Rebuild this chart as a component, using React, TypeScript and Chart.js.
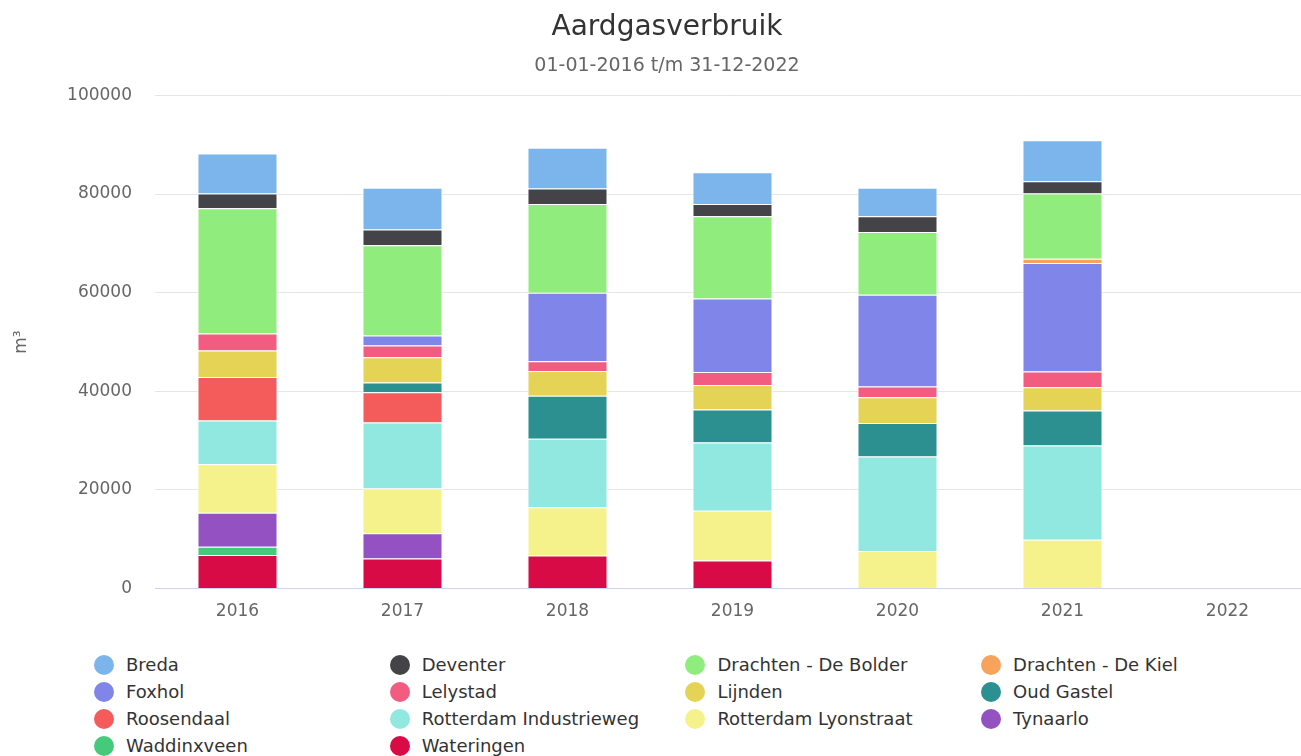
import React, { useEffect, useRef } from "react";
import { Chart, registerables } from "chart.js";

Chart.register(...registerables);

const years = ["2016", "2017", "2018", "2019", "2020", "2021", "2022"];
const yTickValues = [0, 20000, 40000, 60000, 80000, 100000];

const breda = [8100, 8500, 8300, 6400, 5800, 8300, null];
const deventer = [3000, 3200, 3100, 2500, 3200, 2500, null];
const drachtenBolder = [25400, 18300, 18000, 16700, 12700, 13200, null];
const drachtenKiel = [null, null, null, null, null, 900, null];
const foxhol = [null, 2000, 13900, 14900, 18600, 22000, null];
const lelystad = [3400, 2400, 2000, 2600, 2200, 3200, null];
const lijnden = [5400, 5100, 5000, 5000, 5200, 4700, null];
const oudGastel = [null, 2000, 8700, 6700, 6800, 7100, null];
const roosendaal = [8800, 6100, null, null, null, null, null];
const rotterdamIndustrieweg = [8900, 13400, 13900, 13800, 19200, 19100, null];
const rotterdamLyonstraat = [9800, 9100, 9800, 10100, 7600, 9900, null];
const tynaarlo = [6900, 5100, null, null, null, null, null];
const waddinxveen = [1700, null, null, null, null, null, null];
const wateringen = [6800, 6100, 6700, 5700, null, null, null];

const series = [
  { name: "Breda", color: "#7cb5ec", data: breda },
  { name: "Deventer", color: "#434348", data: deventer },
  { name: "Drachten - De Bolder", color: "#90ed7d", data: drachtenBolder },
  { name: "Drachten - De Kiel", color: "#f7a35c", data: drachtenKiel },
  { name: "Foxhol", color: "#8085e9", data: foxhol },
  { name: "Lelystad", color: "#f15c80", data: lelystad },
  { name: "Lijnden", color: "#e4d354", data: lijnden },
  { name: "Oud Gastel", color: "#2b908f", data: oudGastel },
  { name: "Roosendaal", color: "#f45b5b", data: roosendaal },
  { name: "Rotterdam Industrieweg", color: "#91e8e1", data: rotterdamIndustrieweg },
  { name: "Rotterdam Lyonstraat", color: "#f5f28c", data: rotterdamLyonstraat },
  { name: "Tynaarlo", color: "#9351c2", data: tynaarlo },
  { name: "Waddinxveen", color: "#45c97a", data: waddinxveen },
  { name: "Wateringen", color: "#d90b47", data: wateringen },
];

const FONT = "'DejaVu Sans', Verdana, sans-serif";

export default function App() {
  const canvasRef = useRef<HTMLCanvasElement | null>(null);

  useEffect(() => {
    if (!canvasRef.current) return;
    Chart.defaults.font.family = FONT;
    const datasets = [...series].reverse().map((s) => ({
      label: s.name,
      data: s.data,
      backgroundColor: s.color,
      borderColor: "#ffffff",
      borderWidth: 1,
      categoryPercentage: 1,
      barPercentage: 0.485,
    }));
    const chart = new Chart(canvasRef.current, {
      type: "bar",
      data: { labels: years, datasets },
      options: {
        animation: false,
        responsive: false,
        devicePixelRatio: 1,
        layout: { padding: { left: 24, right: 24, top: 0, bottom: 5 } },
        plugins: {
          legend: { display: false },
          tooltip: { enabled: false },
          title: {
            display: true,
            text: "Aardgasverbruik",
            color: "#333333",
            font: { size: 28, weight: "normal", family: FONT },
            padding: { top: 11, bottom: 0 },
          },
          subtitle: {
            display: true,
            text: "01-01-2016 t/m 31-12-2022",
            color: "#666666",
            font: { size: 19, weight: "normal", family: FONT },
            padding: { top: 10, bottom: 18 },
          },
        },
        scales: {
          x: {
            stacked: true,
            grid: { display: false, drawTicks: false },
            border: { display: true, color: "#ccd6eb", width: 1 },
            ticks: { color: "#666666", font: { size: 17, family: FONT }, padding: 13, maxRotation: 0 },
          },
          y: {
            stacked: true,
            min: 0,
            max: 100000,
            afterBuildTicks: (scale: any) => {
              scale.ticks = yTickValues.map((v) => ({ value: v }));
            },
            afterFit: (scale: any) => {
              scale.width = 131;
            },
            grid: { color: "#e6e6e6", drawTicks: false },
            border: { display: false },
            ticks: {
              color: "#666666",
              font: { size: 17, family: FONT },
              padding: 23,
              callback: (v: any) => String(v),
            },
            title: {
              display: true,
              text: "m³",
              color: "#666666",
              font: { size: 17, family: FONT },
              padding: { top: -13, bottom: 0 },
            },
          },
        },
      },
    });
    return () => chart.destroy();
  }, []);

  const colWidth = 295.7;
  const legendLeft = 94;
  const legendTop = 665;
  const rowHeight = 27;

  return (
    <div
      style={{
        position: "fixed",
        left: 0,
        top: 0,
        width: 1301,
        height: 756,
        overflow: "hidden",
        background: "#ffffff",
        fontFamily: FONT,
      }}
    >
      <canvas ref={canvasRef} width={1334} height={640} style={{ display: "block", width: 1334, height: 640 }} />
      {series.map((s, i) => {
        const col = i % 4;
        const row = Math.floor(i / 4);
        return (
          <div
            key={s.name}
            style={{
              position: "absolute",
              left: legendLeft + col * colWidth,
              top: legendTop + row * rowHeight - 13,
              height: 26,
              display: "flex",
              alignItems: "center",
              whiteSpace: "nowrap",
            }}
          >
            <span
              style={{
                display: "inline-block",
                width: 20,
                height: 20,
                borderRadius: "50%",
                background: s.color,
                marginRight: 12,
              }}
            />
            <span style={{ fontSize: 18, color: "#333333", lineHeight: "26px" }}>{s.name}</span>
          </div>
        );
      })}
    </div>
  );
}
